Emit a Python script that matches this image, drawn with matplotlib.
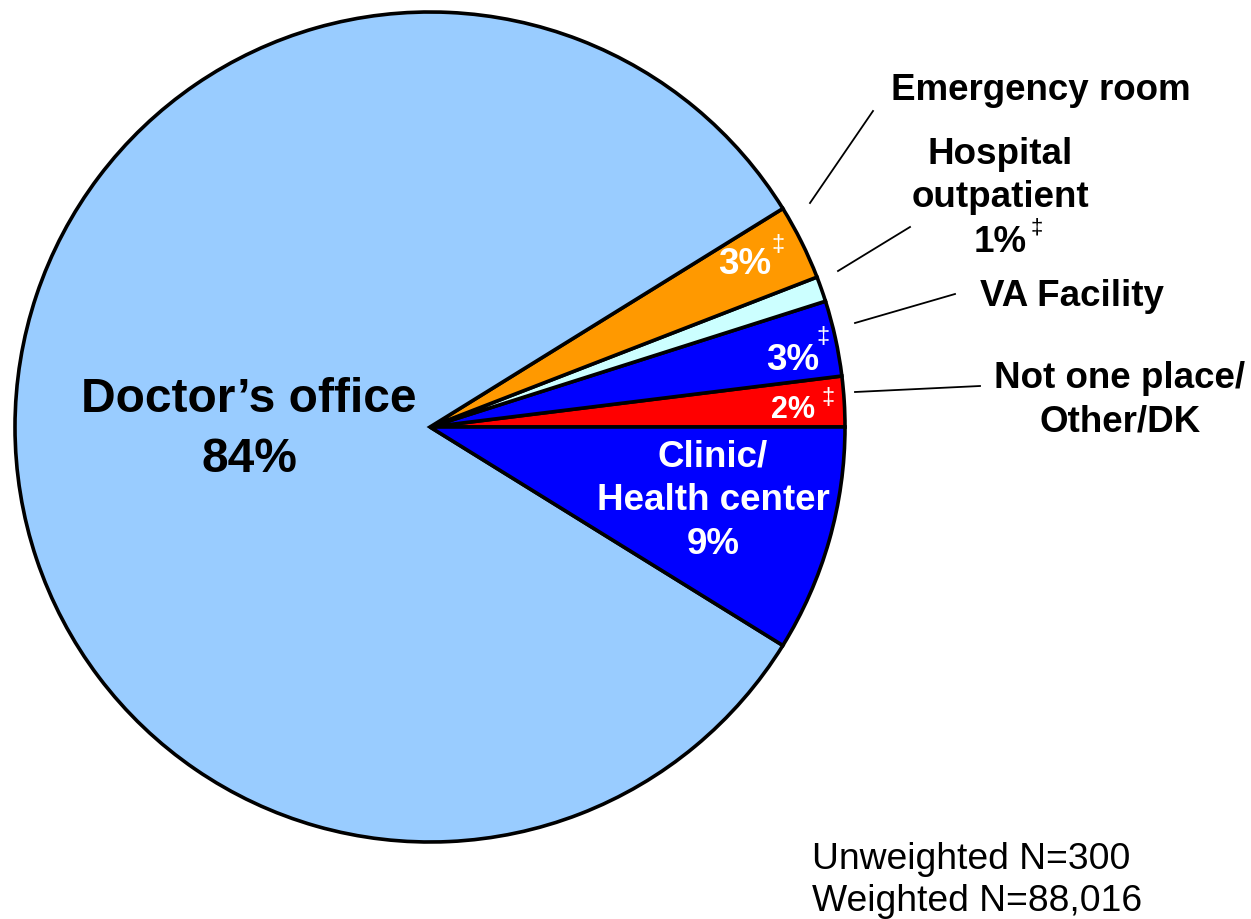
import matplotlib
matplotlib.use("Agg")
from matplotlib import pyplot as plt

# usual source of care, wedges listed counterclockwise starting at 3 o'clock
places = ["Not one place/\nOther/DK", "VA Facility", "Hospital\noutpatient",
          "Emergency room", "Doctor\u2019s office", "Clinic/\nHealth center"]
shares = [2, 3, 1, 3, 84, 9]
colors = ["#FF0000", "#0000FF", "#CCFFFF", "#FF9900", "#99CCFF", "#0000FF"]
flagged = [True, True, True, True, False, False]   # estimate unreliable (‡)

W, H = 1251, 920
fig = plt.figure(figsize=(W / 100, H / 100), dpi=100)
ax = fig.add_axes([0, 0, 1, 1])

def yy(y):
    # flip so positions can be given from the top edge
    return H - y

cx, cy, R = 430, 428, 415
ax.pie(shares, colors=colors, startangle=0, counterclock=True,
       center=(cx, yy(cy)), radius=R, frame=True,
       wedgeprops=dict(edgecolor="black", linewidth=2.6))
ax.set_xlim(0, W)
ax.set_ylim(0, H)
ax.set_aspect("equal")
ax.axis("off")

plt.rcParams["font.family"] = ["Liberation Sans", "DejaVu Sans"]
fs = 26.5
bold = dict(fontsize=fs, fontweight="bold", ha="center", va="center")
dag = dict(fontsize=17, ha="center", va="center")

def pct(v):
    return "%d%%" % v

# big wedges labelled inside
ax.text(249, yy(400), places[4], color="black", fontsize=34.5,
        fontweight="bold", ha="center", va="center")
ax.text(249, yy(460), pct(shares[4]), color="black", fontsize=34.5,
        fontweight="bold", ha="center", va="center")
ax.text(713, yy(479), places[5], color="white", linespacing=1.3, **bold)
ax.text(713, yy(545), pct(shares[5]), color="white", **bold)

# small wedges: value inside, name outside with a leader line
ax.text(745, yy(265), pct(shares[3]), color="white", **bold)
ax.text(778, yy(245), "\u2021", color="white", **dag)
ax.text(793, yy(360), pct(shares[1]), color="white", **bold)
ax.text(823, yy(337), "\u2021", color="white", **dag)
ax.text(793, yy(410), pct(shares[0]), color="white", fontsize=22,
        fontweight="bold", ha="center", va="center")
ax.text(828, yy(398), "\u2021", color="white", **dag)

ax.text(1041, yy(90), places[3], color="black", **bold)
ax.text(1000, yy(176), places[2], color="black", linespacing=1.3, **bold)
ax.text(1000, yy(242), pct(shares[2]), color="black", **bold)
ax.text(1037, yy(228), "\u2021", color="black", fontsize=16, ha="center", va="center")
ax.text(1072, yy(297), places[1], color="black", **bold)
ax.text(1120, yy(400), places[0], color="black", linespacing=1.3, **bold)

leaders = [((810, 204), (873, 112)),
           ((838, 272), (910, 228)),
           ((855, 324), (955, 295)),
           ((855, 393), (980, 387))]
for (x0, y0), (x1, y1) in leaders:
    ax.plot([x0, x1], [yy(y0), yy(y1)], color="black", linewidth=1.3)

ax.text(812, yy(860), "Unweighted N=300", fontsize=26.8, ha="left", va="center")
ax.text(812, yy(902), "Weighted N=88,016", fontsize=26.8, ha="left", va="center")

fig.savefig("out.png", dpi=100)
